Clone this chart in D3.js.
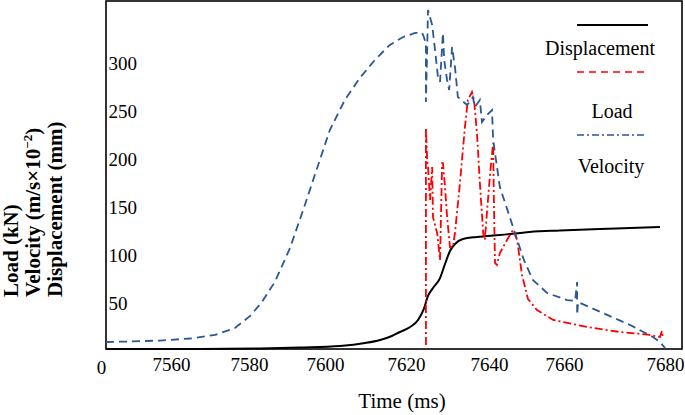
<!DOCTYPE html>
<html>
<head>
<meta charset="utf-8">
<script src="https://cdn.jsdelivr.net/npm/d3@7"></script>
<style>
  html, body { margin: 0; padding: 0; background: #fff; }
  svg { display: block; }
  text { font-family: "Liberation Serif", "Times New Roman", serif; fill: #000; }
</style>
</head>
<body>
<svg id="chart" width="685" height="415"></svg>
<script>
// ---- data ----
const xTickValues = [7560, 7580, 7600, 7620, 7640, 7660, 7680];
const yTickValues = [50, 100, 150, 200, 250, 300];

const loadTime = [7543.3, 7567.4, 7582.9, 7593.4, 7603.7, 7609.9, 7613.6, 7616.5, 7618.5, 7621.0, 7622.9, 7624.3, 7625.3, 7626.5, 7628.2, 7629.4, 7630.6, 7631.8, 7633.7, 7637.1, 7642.9, 7650.9, 7658.9, 7667.1, 7673.1, 7679.0];
const loadValues = [2.1, 2.1, 2.6, 3.6, 5.2, 8.3, 11.5, 15.6, 19.8, 25.0, 32.3, 43.8, 57.3, 65.6, 76.0, 90.6, 104.2, 111.5, 116.7, 118.8, 120.8, 124.0, 125.5, 127.1, 128.1, 129.2];

const velTime = [7543.3, 7549.5, 7557.2, 7564.9, 7571.3, 7576.4, 7580.3, 7583.4, 7586.8, 7590.8, 7594.7, 7598.2, 7601.2, 7604.9, 7608.6, 7612.3, 7616.0, 7619.3, 7622.2, 7623.9, 7624.3, 7624.8, 7624.8, 7625.1, 7625.3, 7626.3, 7627.0, 7627.7, 7628.2, 7628.9, 7629.2, 7629.9, 7630.4, 7631.1, 7631.8, 7632.5, 7634.7, 7635.7, 7636.1, 7636.6, 7637.8, 7638.3, 7639.5, 7640.8, 7641.1, 7642.9, 7646.4, 7649.3, 7651.7, 7655.5, 7660.6, 7662.2, 7662.6, 7662.6, 7662.8, 7667.7, 7673.1, 7677.6, 7679.0, 7680.0];
const velValues = [9.4, 9.9, 10.9, 13.0, 16.7, 24.0, 36.5, 51.0, 71.9, 107.3, 152.1, 193.8, 230.2, 261.5, 284.4, 303.1, 318.8, 327.1, 331.3, 331.3, 327.1, 319.8, 259.4, 313.5, 355.2, 339.6, 313.5, 285.4, 280.2, 331.3, 303.1, 282.3, 271.9, 316.7, 295.8, 264.6, 256.3, 261.5, 264.6, 254.2, 261.5, 238.5, 245.8, 251.0, 219.8, 170.8, 129.2, 94.8, 74.0, 60.4, 53.1, 52.1, 71.9, 37.5, 51.0, 39.6, 27.1, 14.6, 9.4, 3.1];

const dispTime = [7624.8, 7624.8, 7625.1, 7625.3, 7625.8, 7626.3, 7626.5, 7627.5, 7628.2, 7628.7, 7628.9, 7629.4, 7629.9, 7630.6, 7631.3, 7631.8, 7633.0, 7634.2, 7634.9, 7635.9, 7636.4, 7637.1, 7637.8, 7638.6, 7639.0, 7639.5, 7640.3, 7641.1, 7641.3, 7641.6, 7642.1, 7642.9, 7644.8, 7646.4, 7647.5, 7648.8, 7650.4, 7652.8, 7657.1, 7664.6, 7671.1, 7677.0, 7679.0, 7679.4, 7679.6];
const dispValues = [6.3, 232.3, 199.0, 191.7, 157.3, 191.7, 139.6, 122.9, 94.8, 195.8, 195.8, 170.8, 139.6, 108.3, 108.3, 122.9, 175.0, 233.3, 261.5, 269.8, 261.5, 227.1, 175.0, 122.9, 115.6, 143.8, 185.4, 216.7, 157.3, 91.7, 89.6, 102.1, 115.6, 126.0, 115.6, 79.2, 54.2, 42.7, 32.3, 25.0, 19.8, 16.7, 14.6, 20.8, 13.5];

const legendLabels = ["Displacement", "Load", "Velocity"];

// ---- layout ----
const svg = d3.select("#chart");
const plot = { left: 106, right: 682, top: 1, bottom: 349 };

const x = d3.scaleLinear()
  .domain([7543.3, 7560, 7580, 7600, 7620, 7640, 7660, 7680])
  .range([106, 171, 249, 325, 406, 489, 564, 665]);
const y = d3.scaleLinear().domain([0, 365]).range([351, 0.6]);

const BLUE = "#2a5796";
const RED = "#ff0000";

// frame
svg.append("rect")
  .attr("x", plot.left).attr("y", plot.top)
  .attr("width", plot.right - plot.left).attr("height", plot.bottom - plot.top)
  .attr("fill", "none").attr("stroke", "#000").attr("stroke-width", 1.6);

// x axis labels (no tick marks)
const xAxis = d3.axisBottom(x).tickValues(xTickValues).tickSize(0).tickPadding(0).tickFormat(d3.format("d"));
const gx = svg.append("g").attr("transform", `translate(0,${plot.bottom})`).call(xAxis);
gx.select(".domain").remove();
gx.selectAll("text").attr("dy", null).attr("y", 22).style("font-size", "19px")
  .style("font-family", '"Liberation Serif", serif');
svg.append("text").attr("x", 101.5).attr("y", 373.5).attr("text-anchor", "middle")
  .style("font-size", "19px").text("0");

// y axis labels inside plot
const yAxis = d3.axisLeft(y).tickValues(yTickValues).tickSize(0).tickPadding(0).tickFormat(d3.format("d"));
const gy = svg.append("g").attr("transform", `translate(${plot.left},0)`).call(yAxis);
gy.select(".domain").remove();
gy.selectAll("text").attr("text-anchor", "start").attr("x", 2.5).attr("dy", "0.34em")
  .style("font-size", "19px").style("font-family", '"Liberation Serif", serif');

// axis titles
svg.append("text").attr("x", 402).attr("y", 408).attr("text-anchor", "middle")
  .style("font-size", "21px").text("Time (ms)");

const yt = svg.append("g").attr("transform", "translate(0,297) rotate(-90)");
yt.append("text").attr("x", 0).attr("y", 17.5).style("font-size", "21px").style("font-weight", "bold").text("Load (kN)");
const vt = yt.append("text").attr("x", 0).attr("y", 39.5).style("font-size", "21px").style("font-weight", "bold");
vt.append("tspan").text("Velocity (m/s\u00d710");
vt.append("tspan").attr("dy", -8).style("font-size", "13px").text("\u22122");
vt.append("tspan").attr("dy", 8).text(")");
yt.append("text").attr("x", 0).attr("y", 61.5).style("font-size", "21px").style("font-weight", "bold").text("Displacement (mm)");

// lines
const mk = (ts, vs) => ts.map((t, i) => [t, vs[i]]);
const line = d3.line().x(d => x(d[0])).y(d => y(d[1]));
const smooth = d3.line().x(d => x(d[0])).y(d => y(d[1])).curve(d3.curveMonotoneX);

svg.append("path").datum(mk(loadTime, loadValues)).attr("d", smooth)
  .attr("fill", "none").attr("stroke", "#000").attr("stroke-width", 2);

svg.append("path").datum(mk(dispTime, dispValues)).attr("d", line)
  .attr("fill", "none").attr("stroke", RED).attr("stroke-width", 1.8)
  .attr("stroke-dasharray", "8,3,2,3");

svg.append("path").datum(mk(velTime, velValues)).attr("d", line)
  .attr("fill", "none").attr("stroke", BLUE).attr("stroke-width", 1.8)
  .attr("stroke-dasharray", "8,5");

// legend
const lg = svg.append("g");
lg.append("line").attr("x1", 577).attr("x2", 648).attr("y1", 25).attr("y2", 25)
  .attr("stroke", "#000").attr("stroke-width", 2);
lg.append("text").attr("x", 600).attr("y", 55).attr("text-anchor", "middle").style("font-size", "20px").text(legendLabels[0]);
lg.append("line").attr("x1", 577).attr("x2", 648).attr("y1", 72).attr("y2", 72)
  .attr("stroke", RED).attr("stroke-width", 1.6).attr("stroke-dasharray", "7,5");
lg.append("text").attr("x", 612).attr("y", 118).attr("text-anchor", "middle").style("font-size", "20px").text(legendLabels[1]);
lg.append("line").attr("x1", 577).attr("x2", 646).attr("y1", 135).attr("y2", 135)
  .attr("stroke", BLUE).attr("stroke-width", 1.6).attr("stroke-dasharray", "7,3,2,3");
lg.append("text").attr("x", 611).attr("y", 173).attr("text-anchor", "middle").style("font-size", "20px").text(legendLabels[2]);
</script>
</body>
</html>
